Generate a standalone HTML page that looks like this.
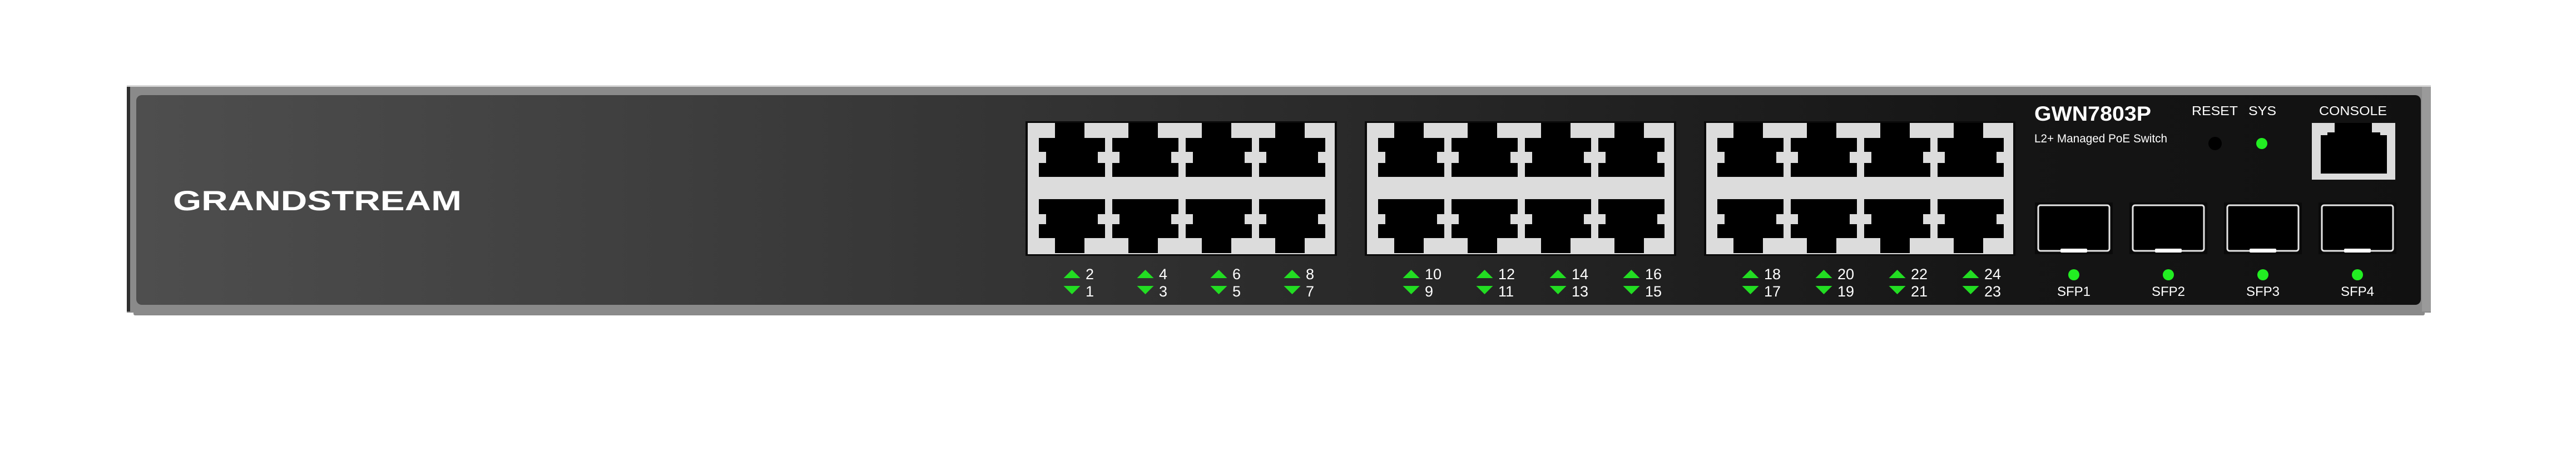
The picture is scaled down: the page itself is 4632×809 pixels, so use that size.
<!DOCTYPE html>
<html><head><meta charset="utf-8"><style>
html,body{margin:0;padding:0;background:#fff;}
svg{display:block}
text{font-family:"Liberation Sans",sans-serif;fill:#fff}
</style></head><body>
<svg width="4632" height="809" xmlns="http://www.w3.org/2000/svg">
<defs>
<linearGradient id="pg" x1="245" x2="4353" y1="0" y2="0" gradientUnits="userSpaceOnUse">
<stop offset="0" stop-color="#4e4e4e"/>
<stop offset="0.38" stop-color="#343434"/>
<stop offset="0.82" stop-color="#151515"/>
<stop offset="1" stop-color="#111"/>
</linearGradient>
<g id="pt">
<path d="M29,3 H82 V30 H119 V55 H106 V75 H119 V100 H0 V75 H13 V55 H0 V30 H29 Z" fill="#000"/>
<path d="M0,140 H119 V167 H106 V185 H119 V210 H82 V237 H29 V210 H0 V185 H13 V167 H0 Z" fill="#000"/>
</g>
<g id="grp">
<rect x="0" y="0" width="560" height="242" fill="#0a0a0a"/>
<rect x="4" y="3" width="552" height="236" fill="#dcdcdc"/>
<use href="#pt" x="24"/><use href="#pt" x="156"/><use href="#pt" x="288"/><use href="#pt" x="420"/>
</g>
<g id="led">
<polygon points="-15,500 15,500 0,485" fill="#22dd22"/>
<polygon points="-15,514 15,514 0,529" fill="#22dd22"/>
</g>
<g id="sfp">
<rect x="0" y="0" width="140" height="93" fill="#0a0a0a"/>
<rect x="6" y="5" width="128" height="82" rx="4" fill="#000" stroke="#e6e6e6" stroke-width="3"/>
<rect x="46" y="83" width="48" height="7" rx="2" fill="#fff"/>
</g>
</defs>

<!-- chassis -->
<rect x="228" y="153" width="4143" height="409" fill="#8a8a8a"/>
<rect x="228" y="153" width="4143" height="3" fill="#d8d8d8"/>
<rect x="240" y="560" width="4120" height="7" rx="3" fill="#8a8a8a"/>
<rect x="228" y="156" width="6" height="404" fill="#2e2e2e"/>
<rect x="4355" y="156" width="16" height="404" fill="#9a9a9a"/>
<rect x="245" y="171" width="4108" height="377" rx="10" fill="url(#pg)"/>

<text x="311" y="378" font-size="50" font-weight="bold" textLength="519" lengthAdjust="spacingAndGlyphs">GRANDSTREAM</text>

<use href="#grp" x="1844" y="218"/>
<use href="#grp" x="2454" y="218"/>
<use href="#grp" x="3064" y="218"/>

<g>
<use href="#led" x="1927.5"/><use href="#led" x="2059.5"/><use href="#led" x="2191.5"/><use href="#led" x="2323.5"/>
<use href="#led" x="2537.5"/><use href="#led" x="2669.5"/><use href="#led" x="2801.5"/><use href="#led" x="2933.5"/>
<use href="#led" x="3147.5"/><use href="#led" x="3279.5"/><use href="#led" x="3411.5"/><use href="#led" x="3543.5"/>
</g>
<g font-size="27">
<text x="1952" y="502">2</text><text x="1952" y="533">1</text>
<text x="2084" y="502">4</text><text x="2084" y="533">3</text>
<text x="2216" y="502">6</text><text x="2216" y="533">5</text>
<text x="2348" y="502">8</text><text x="2348" y="533">7</text>
<text x="2562" y="502">10</text><text x="2562" y="533">9</text>
<text x="2694" y="502">12</text><text x="2694" y="533">11</text>
<text x="2826" y="502">14</text><text x="2826" y="533">13</text>
<text x="2958" y="502">16</text><text x="2958" y="533">15</text>
<text x="3172" y="502">18</text><text x="3172" y="533">17</text>
<text x="3304" y="502">20</text><text x="3304" y="533">19</text>
<text x="3436" y="502">22</text><text x="3436" y="533">21</text>
<text x="3568" y="502">24</text><text x="3568" y="533">23</text>
</g>

<text x="3658" y="217" font-size="37" font-weight="bold" textLength="210" lengthAdjust="spacingAndGlyphs">GWN7803P</text>
<text x="3658" y="256" font-size="21" textLength="239" lengthAdjust="spacingAndGlyphs">L2+ Managed PoE Switch</text>
<text x="3941" y="207" font-size="23" textLength="83" lengthAdjust="spacingAndGlyphs">RESET</text>
<text x="4043" y="207" font-size="23" textLength="50" lengthAdjust="spacingAndGlyphs">SYS</text>
<text x="4170" y="207" font-size="23" textLength="122" lengthAdjust="spacingAndGlyphs">CONSOLE</text>
<circle cx="3983" cy="258" r="12" fill="#000"/>
<circle cx="4067" cy="258" r="10" fill="#22ee22"/>

<rect x="4157" y="221" width="150" height="102" fill="#dcdcdc"/>
<path d="M4198,221 H4265 V238 H4280 V243 H4292 V312 H4173 V243 H4185 V238 H4198 Z" fill="#000"/>

<use href="#sfp" x="3659" y="364"/>
<use href="#sfp" x="3829" y="364"/>
<use href="#sfp" x="3999" y="364"/>
<use href="#sfp" x="4169" y="364"/>
<circle cx="3729" cy="494" r="10" fill="#22ee22"/>
<circle cx="3899" cy="494" r="10" fill="#22ee22"/>
<circle cx="4069" cy="494" r="10" fill="#22ee22"/>
<circle cx="4239" cy="494" r="10" fill="#22ee22"/>
<g font-size="24" text-anchor="middle">
<text x="3729" y="532">SFP1</text>
<text x="3899" y="532">SFP2</text>
<text x="4069" y="532">SFP3</text>
<text x="4239" y="532">SFP4</text>
</g>
</svg>
</body></html>
